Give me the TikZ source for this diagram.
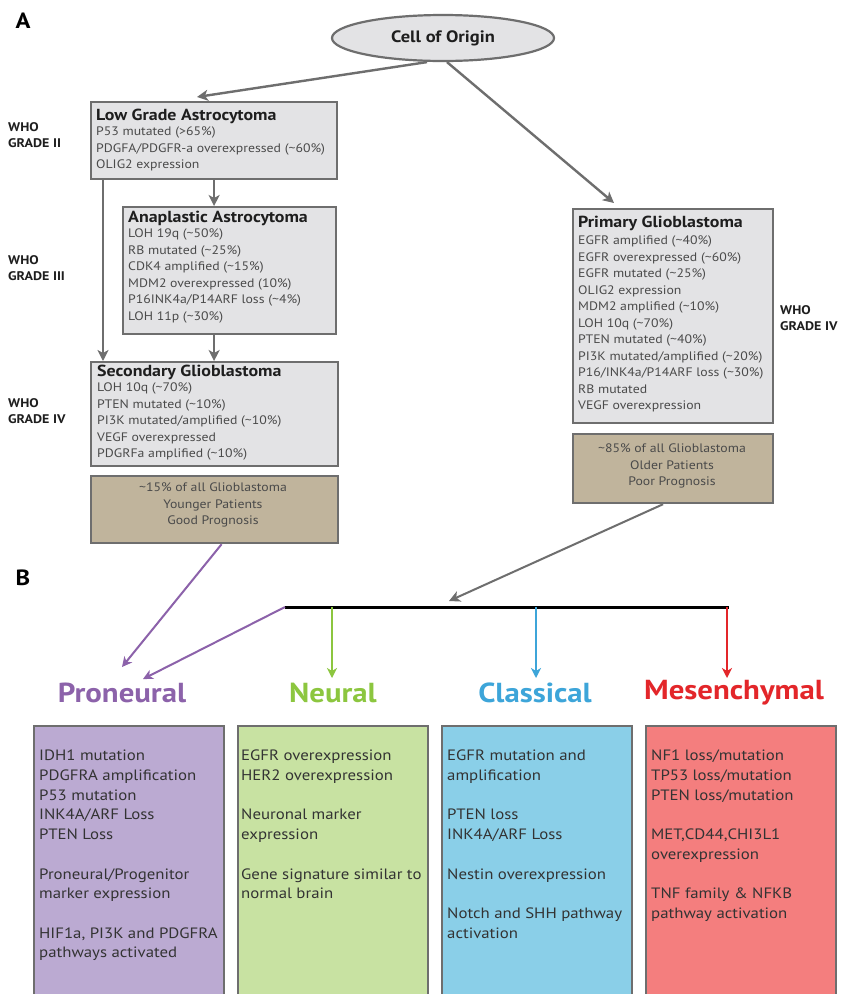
\documentclass[tikz,border=0pt]{standalone}
\usepackage{fontspec}
\setmainfont{PT Sans}[FakeStretch=1.12]
\usetikzlibrary{arrows.meta,shapes.geometric,calc}
\definecolor{bordergray}{HTML}{6E6E6E}
\definecolor{boxgray}{HTML}{E3E3E5}
\definecolor{tan}{HTML}{C0B49C}
\definecolor{listcol}{HTML}{4A4A4A}
\definecolor{titlecol}{HTML}{1E1E1E}
\definecolor{pncol}{HTML}{8C62AA}
\definecolor{nucol}{HTML}{8CC63F}
\definecolor{clcol}{HTML}{3DA5D9}
\definecolor{mecol}{HTML}{E3262A}
\definecolor{pnfill}{HTML}{BBAAD2}
\definecolor{nufill}{HTML}{C8E2A2}
\definecolor{clfill}{HTML}{8ACFE8}
\definecolor{mefill}{HTML}{F47E7E}
\definecolor{btext}{HTML}{333333}
\begin{document}
\begin{tikzpicture}[x=1pt,y=-1pt,
  graybox/.style={draw=bordergray,line width=2.2pt,fill=boxgray,inner sep=0pt,anchor=north west},
  tanbox/.style={draw=bordergray,line width=2.2pt,fill=tan,inner sep=0pt,anchor=north west},
  btitle/.style={font=\fontsize{16}{18}\selectfont\bfseries,text=titlecol,inner sep=0pt,anchor=west},
  blist/.style={font=\fontsize{12.3}{16.5}\selectfont,text=listcol,inner sep=0pt,anchor=north west,align=left},
  tanlist/.style={font=\fontsize{12.3}{16.5}\selectfont,text=listcol,inner sep=0pt,anchor=north,align=center},
  who/.style={font=\fontsize{12.5}{16.5}\selectfont\bfseries,text=titlecol,inner sep=0pt,anchor=north west,align=left},
  garrow/.style={draw=bordergray,line width=2.4pt,-{Stealth[length=11pt,width=11pt,inset=3pt]}},
  carrow/.style={line width=2pt,-{Stealth[length=10pt,width=10pt,inset=3pt]}},
  sublab/.style={font=\fontsize{27.5}{30}\selectfont\bfseries,inner sep=0pt},
  subbox/.style={draw=bordergray,line width=2pt,inner sep=0pt,anchor=north west,minimum width=190pt,minimum height=275pt},
  subtext/.style={font=\fontsize{15}{19.7}\selectfont,text=btext,inner sep=0pt,anchor=north west,align=left},
  panel/.style={font=\fontsize{22}{24}\selectfont\bfseries,inner sep=0pt}
]
\useasboundingbox[fill=white] (0,0) rectangle (842,994);

% panel letters
\node[panel] (pA) at (23,21) {A};
\node[panel] (pB) at (23,578) {B};

% cell of origin
\node[ellipse,draw=bordergray,line width=2.2pt,fill=boxgray,minimum width=222pt,minimum height=46pt,
      font=\fontsize{16.5}{18}\selectfont\bfseries,text=titlecol] (origin) at (443,38) {Cell of Origin};

% WHO labels
\node[who] (w2) at (8,122) {WHO\\GRADE II};
\node[who] (w3) at (8,255) {WHO\\GRADE III};
\node[who] (w4) at (8,398) {WHO\\GRADE IV};
\node[who] (w4r) at (780,305) {WHO\\GRADE IV};

% Low grade astrocytoma
\node[graybox,minimum width=246pt,minimum height=77pt] (lga) at (90,101) {};
\node[btitle] (lgaT) at (96,116) {Low Grade Astrocytoma};
\node[blist] (lgaL) at (96,127) {P53 mutated (>65\%)\\PDGFA/PDGFR-a overexpressed (\textasciitilde60\%)\\OLIG2 expression};

% Anaplastic astrocytoma
\node[graybox,minimum width=213pt,minimum height=127pt] (ana) at (122,206) {};
\node[btitle] (anaT) at (128,218) {Anaplastic Astrocytoma};
\node[blist] (anaL) at (128,229) {LOH 19q (\textasciitilde50\%)\\RB mutated (\textasciitilde25\%)\\CDK4 amplified (\textasciitilde15\%)\\MDM2 overexpressed (10\%)\\P16INK4a/P14ARF loss (\textasciitilde4\%)\\LOH 11p (\textasciitilde30\%)};

% Secondary glioblastoma
\node[graybox,minimum width=247pt,minimum height=104pt] (sec) at (90,361) {};
\node[btitle] (secT) at (97,372) {Secondary Glioblastoma};
\node[blist] (secL) at (97,383) {LOH 10q (\textasciitilde70\%)\\PTEN mutated (\textasciitilde10\%)\\PI3K mutated/amplified (\textasciitilde10\%)\\VEGF overexpressed\\PDGRFa amplified (\textasciitilde10\%)};

% tan left
\node[tanbox,minimum width=247pt,minimum height=67pt] (tanL) at (90,475) {};
\node[tanlist] (tanLt) at (213,483) {\textasciitilde15\% of all Glioblastoma\\Younger Patients\\Good Prognosis};

% Primary glioblastoma
\node[graybox,minimum width=200pt,minimum height=214pt] (prim) at (572,208) {};
\node[btitle] (primT) at (578,223) {Primary Glioblastoma};
\node[blist] (primL) at (578,236) {EGFR amplified (\textasciitilde40\%)\\EGFR overexpressed (\textasciitilde60\%)\\EGFR mutated (\textasciitilde25\%)\\OLIG2 expression\\MDM2 amplified (\textasciitilde10\%)\\LOH 10q (\textasciitilde70\%)\\PTEN mutated (\textasciitilde40\%)\\PI3K mutated/amplified (\textasciitilde20\%)\\P16/INK4a/P14ARF loss (\textasciitilde30\%)\\RB mutated\\VEGF overexpression};

% tan right
\node[tanbox,minimum width=200pt,minimum height=69pt] (tanR) at (572,433) {};
\node[tanlist] (tanRt) at (672,444) {\textasciitilde85\% of all Glioblastoma\\Older Patients\\Poor Prognosis};

% arrows in panel A
\coordinate (lgaTip) at (197,97);
\coordinate (primTip) at (614,203);
\draw[garrow] ([xshift=-16pt]origin.south) -- (lgaTip);
\draw[garrow] ([xshift=4pt]origin.south) -- (primTip);
\draw[garrow] (lga.south) -- (lga.south |- ana.north);
\draw[garrow] ([xshift=13pt]lga.south west) -- ([xshift=13pt]lga.south west |- sec.north);
\draw[garrow] (lga.south |- ana.south) -- (lga.south |- sec.north);

% panel B connectors
\coordinate (barL) at (285,607);
\coordinate (barR) at (729,607);
\coordinate (barTip) at (449,601);
\coordinate (pnTip1) at (122,667);
\coordinate (pnTip2) at (143,679);
\coordinate (nuTip) at (332,678);
\coordinate (clTip) at (536,678);
\coordinate (meTip) at (727,678);
\draw[line width=3pt,black] (barL) -- (barR);
\draw[garrow,line width=2pt] ([xshift=-10pt]tanR.south) -- (barTip);
\draw[carrow,pncol] ([xshift=7pt]tanL.south) -- (pnTip1);
\draw[carrow,pncol] (barL) -- (pnTip2);
\draw[carrow,nucol] (nuTip |- barL) -- (nuTip);
\draw[carrow,clcol] (clTip |- barL) -- (clTip);
\draw[carrow,mecol] (meTip |- barL) -- (meTip);

% subtype labels
\node[sublab,text=pncol] (pn) at (122,693) {Proneural};
\node[sublab,text=nucol] (nu) at (333,693) {Neural};
\node[sublab,text=clcol] (cl) at (535,693) {Classical};
\node[sublab,text=mecol] (me) at (734,693) {Mesenchymal};

% subtype boxes
\node[subbox,fill=pnfill] (pnb) at (33,725) {};
\node[subbox,fill=nufill] (nub) at (237,725) {};
\node[subbox,fill=clfill] (clb) at (441,725) {};
\node[subbox,fill=mefill] (meb) at (645,725) {};

\node[subtext] (pnt) at (39,750) {IDH1 mutation\\PDGFRA amplification\\P53 mutation\\INK4A/ARF Loss\\PTEN Loss\\[19.7pt]Proneural/Progenitor\\marker expression\\[19.7pt]HIF1a, PI3K and PDGFRA\\pathways activated};
\node[subtext] (nut) at (241,750) {EGFR overexpression\\HER2 overexpression\\[19.7pt]Neuronal marker\\expression\\[19.7pt]Gene signature similar to\\normal brain};
\node[subtext] (clt) at (447,750) {EGFR mutation and\\amplification\\[19.7pt]PTEN loss\\INK4A/ARF Loss\\[19.7pt]Nestin overexpression\\[19.7pt]Notch and SHH pathway\\activation};
\node[subtext] (met) at (651,750) {NF1 loss/mutation\\TP53 loss/mutation\\PTEN loss/mutation\\[19.7pt]MET,CD44,CHI3L1\\overexpression\\[19.7pt]TNF family \& NFKB\\pathway activation};
\end{tikzpicture}
\end{document}
